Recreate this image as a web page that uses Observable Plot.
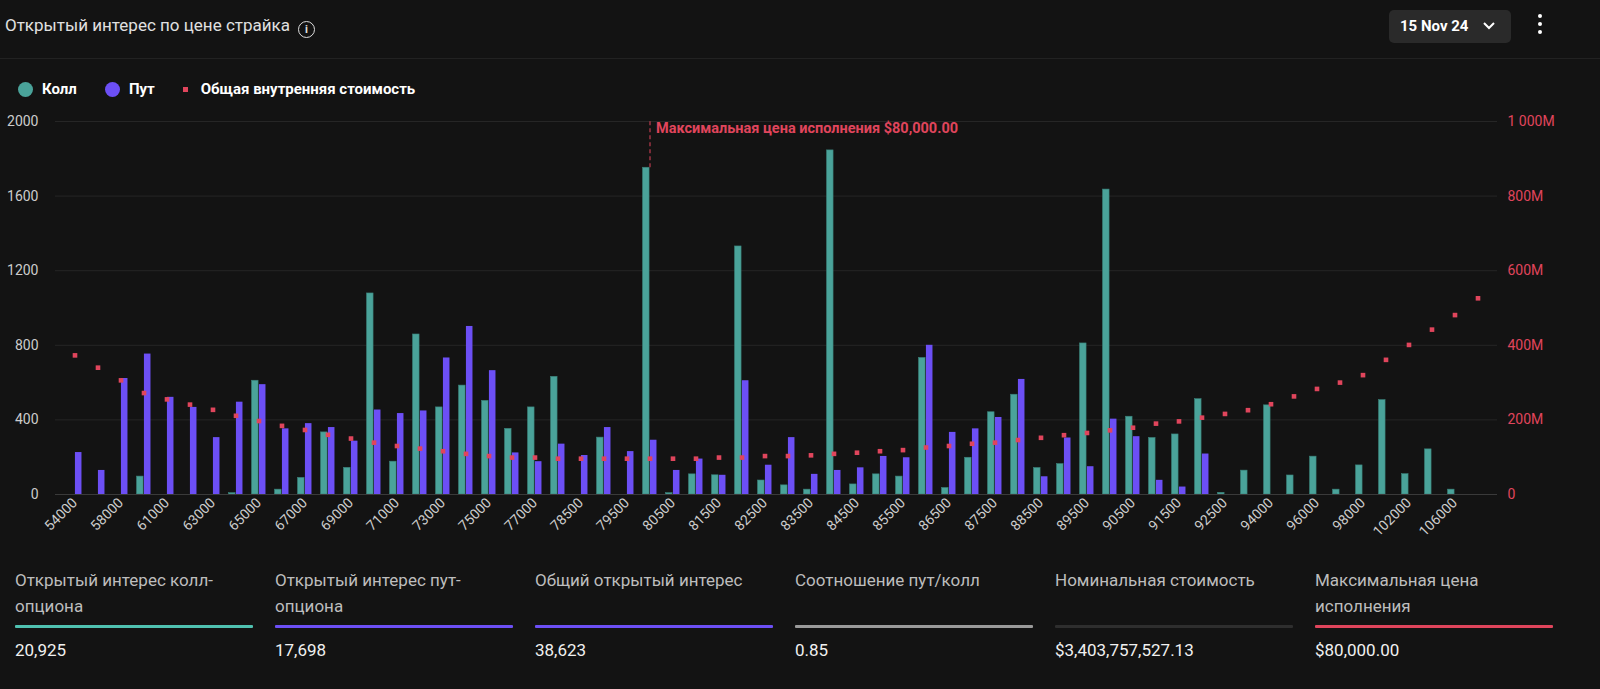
<!DOCTYPE html>
<html><head><meta charset="utf-8">
<script src="https://cdn.jsdelivr.net/npm/d3@7"></script>
<script src="https://cdn.jsdelivr.net/npm/@observablehq/plot@0.6"></script>
<style>
body{margin:0;background:#131313;color:#e6e6e6;font-family:Roboto,"Noto Sans",sans-serif;width:1600px;height:689px;overflow:hidden;position:relative}
.hdr{position:absolute;left:0;top:0;width:1600px;height:58px;border-bottom:1px solid #222}
.title{position:absolute;left:5px;top:15px;font-size:17px;color:#e0e0e0}
.info{display:inline-block;width:15px;height:15px;border:1.6px solid #ddd;border-radius:50%;font-size:11px;text-align:center;line-height:15px;font-weight:bold;margin-left:8px;vertical-align:-2px}
.btn{position:absolute;left:1389px;top:10px;width:122px;height:33px;background:#2a2a2a;border-radius:5px;font-size:15px;font-weight:bold;color:#fff;line-height:33px;padding-left:11px;box-sizing:border-box}
.kebab{position:absolute;left:1538px;top:14px;width:6px}
.kebab i{display:block;width:4px;height:4px;background:#fff;border-radius:50%;margin-bottom:4px}
.legend{position:absolute;top:80px;left:18px;font-size:15px;font-weight:bold;color:#fff;display:flex;align-items:center}
.legend span{display:inline-flex;align-items:center;margin-right:28px}
.dot{width:15px;height:15px;border-radius:50%;margin-right:9px}
.sq{width:5px;height:5px;background:#e0455c;margin-right:13px}
#chart{position:absolute;left:0;top:110px}
.stat{position:absolute;top:567px;width:238px}
.stat .l{font-size:17px;color:#bdbdbd;line-height:26px;height:52px}
.stat .b{height:3px;margin-top:6px;border-radius:1px}
.stat .v{font-size:17px;color:#f0f0f0;margin-top:12px}
</style></head><body>
<div class="hdr"><div class="title">Открытый интерес по цене страйка<span class="info">i</span></div>
<div class="btn">15 Nov 24 <svg width="14" height="10" style="margin-left:10px" viewBox="0 0 14 10"><path d="M2 2 L7 7 L12 2" stroke="#fff" stroke-width="2" fill="none"/></svg></div>
<div class="kebab"><i></i><i></i><i></i></div></div>
<div class="legend"><span><i class="dot" style="background:#4aa39a"></i>Колл</span><span><i class="dot" style="background:#6c4ff5"></i>Пут</span><span><i class="sq"></i>Общая внутренняя стоимость</span></div>
<div id="chart"></div>
<div id="stats"></div>
<script>
const strikes=[54000,56000,58000,60000,61000,62000,63000,64000,65000,66000,67000,68000,69000,70000,71000,72000,73000,74000,75000,76000,77000,78000,78500,79000,79500,80000,80500,81000,81500,82000,82500,83000,83500,84000,84500,85000,85500,86000,86500,87000,87500,88000,88500,89000,89500,90000,90500,91000,91500,92000,92500,93000,94000,95000,96000,97000,98000,100000,102000,104000,106000,108000];
const callOI=[0,0,0,96,0,0,0,7,610,26,89,333,143,1078,176,858,467,584,502,352,467,631,0,305,0,1752,7,108,103,1330,75,49,26,1845,54,108,96,732,35,197,441,535,142,163,810,1635,417,303,322,511,9,128,478,102,203,26,156,506,109,242,26,0];
const putOI=[225,129,622,753,521,467,305,495,589,352,380,359,286,453,434,448,732,901,664,223,176,270,209,359,230,291,129,190,103,610,157,305,108,129,143,204,197,800,333,352,413,617,95,303,149,404,310,76,40,217,0,0,0,0,0,0,0,0,0,0,0,0];
const intrinsicM=[373,340,306,272,255,241,227,211,197,184,173,160,150,139,130,123,116,109,103,99,99,96,96,96,96,96,96,96,99,99,103,103,105,109,112,116,119,126,130,136,139,146,152,159,165,172,179,190,196,206,216,226,242,263,283,300,320,361,401,442,481,526];
const leftTicks=[0,400,800,1200,1600,2000];
const rightTicks=[0,200,400,600,800,1000];
const maxPain=80000;
const statLabels=["Открытый интерес колл-опциона","Открытый интерес пут-опциона","Общий открытый интерес","Соотношение пут/колл","Номинальная стоимость","Максимальная цена исполнения"];
const statValues=["20,925","17,698","38,623","0.85","$3,403,757,527.13","$80,000.00"];
const statColors=["#4fc1b0","#6c4ff5","#6c4ff5","#9a9a9a","#2e2e2e","#e0455c"];

const rows=strikes.map((s,i)=>({s:String(s),call:callOI[i],put:putOI[i],iv:intrinsicM[i]}));
const dom=strikes.map(String);
const labelSet=new Set(dom.filter((d,i)=>i%2===0));
const bw=6.8;
const chart=Plot.plot({
  width:1600,height:434,marginTop:11,marginBottom:50,marginLeft:55,marginRight:103,
  style:{background:"transparent",color:"#ccc",fontSize:"13px",fontFamily:"Roboto"},
  x:{type:"band",domain:dom,padding:0,paddingOuter:0.0,align:0.5,label:null},
  y:{domain:[0,2000],label:null},
  marks:[
    Plot.gridY(leftTicks,{stroke:"#262626",strokeOpacity:1}),
    Plot.barY(rows,{x:"s",y:"call",fill:"#4aa39a",stroke:"#3a8179",strokeWidth:0.6,insetLeft:23.26/2-bw-0.3,insetRight:23.26/2+0.3}),
    Plot.barY(rows,{x:"s",y:"put",fill:"#6c4ff5",insetLeft:23.26/2+0.3,insetRight:23.26/2-bw-0.3}),
    Plot.ruleY([0],{stroke:"#3a3a3a"}),
    Plot.ruleX([String(maxPain)],{y1:1752,y2:2010,stroke:"#e0455c",strokeDasharray:"4,3"}),
    Plot.text([String(maxPain)],{x:d=>d,y:1963,text:d=>"Максимальная цена исполнения $80,000.00",textAnchor:"start",dx:6,fill:"#e0455c",fontWeight:"bold",fontSize:14.5}),
    Plot.dot(rows,{x:"s",y:d=>d.iv*2,symbol:"square",r:2.6,fill:"#e0455c"}),
    Plot.axisY(leftTicks,{anchor:"left",tickSize:0,tickPadding:17,fill:"#ccc",fontSize:14,tickFormat:d=>String(d)}),
    Plot.axisY(rightTicks.map(v=>v*2),{anchor:"right",tickSize:0,tickPadding:10,fill:"#e0455c",fontSize:14,tickFormat:d=>d===0?"0":(d===2000?"1 000M":(d/2)+"M")}),
    Plot.axisX(dom.filter(d=>labelSet.has(d)),{tickSize:0,tickRotate:-45,fill:"#ccc",fontSize:14,tickPadding:6})
  ]
});
document.getElementById("chart").append(chart);
const st=document.getElementById("stats");
statLabels.forEach((l,i)=>{const d=document.createElement("div");d.className="stat";d.style.left=(15+i*260)+"px";
d.innerHTML=`<div class="l">${l}</div><div class="b" style="background:${statColors[i]}"></div><div class="v">${statValues[i]}</div>`;st.append(d);});
</script></body></html>
